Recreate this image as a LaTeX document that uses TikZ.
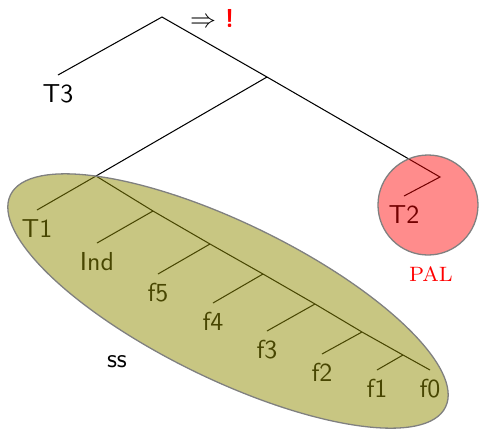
\documentclass[tikz,border=0pt]{standalone}
\usepackage{tikz}
\usetikzlibrary{positioning}
\definecolor{ssblob}{RGB}{145,141,5}
\definecolor{palblob}{RGB}{255,20,20}
\tikzset{
  leaf/.style={font=\sffamily,anchor=north},
  edge/.style={line width=0.4pt},
  blob/.style={draw=gray,line width=0.5pt},
}

\begin{document}
\begin{tikzpicture}[x=0.385pt,y=-0.385pt]
  \useasboundingbox (0,0) rectangle (480,429);
  % inner points of the tree
  \coordinate (root) at (162,17);
  \coordinate (top) at (267,77);
  \coordinate (sp0) at (96,176);
  \coordinate (pal) at (440,177);
  \foreach \i/\x/\y in {1/153/211,2/210/244,3/263/274,4/315/304,5/362/332,6/403/355}
    \coordinate (sp\i) at (\x,\y);
  % leaves
  \node[leaf] (t3) at (58,75) {T3};
  \node[leaf] (t1) at (37,210) {T1};
  \node[leaf] (ind) at (97,243) {Ind};
  \node[leaf] (f5) at (158,274) {f5};
  \node[leaf] (f4) at (213,303) {f4};
  \node[leaf] (f3) at (267,331) {f3};
  \node[leaf] (f2) at (322,354) {f2};
  \node[leaf] (f1) at (377,370) {f1};
  \node[leaf] (f0) at (430,370) {f0};
  \node[leaf] (t2) at (404,196) {T2};
  \node[anchor=west] (verdict) at (181,18) {$\Rightarrow$ \textcolor{red}{\sffamily\bfseries !}};
  % edges
  \draw[edge] (t3.north) -- (root) -- (top) -- (pal) -- (t2.north);
  \draw[edge] (top) -- (sp0) -- (t1.north);
  \draw[edge] (sp0) -- (sp1) -- (sp2) -- (sp3) -- (sp4) -- (sp5) -- (sp6) -- (f0.north);
  \foreach \s/\l in {sp1/ind,sp2/f5,sp3/f4,sp4/f3,sp5/f2,sp6/f1}
    \draw[edge] (\s) -- (\l.north);
  % the two sets
  \draw[blob,fill=ssblob,fill opacity=0.5,rotate around={-26:(228,301)}]
    (228,301) ellipse [x radius=242, y radius=78];
  \draw[blob,fill=red,fill opacity=0.45] (428,205) circle [radius=50];
  \node[font=\sffamily] (ss) at (117,362) {ss};
  \node[text=red,font=\footnotesize] (palname) at (431,274) {PAL};
\end{tikzpicture}
\end{document}
